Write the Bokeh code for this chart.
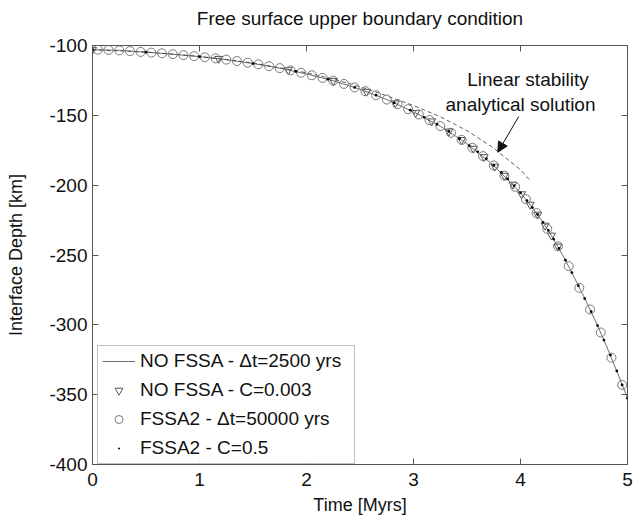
from bokeh.plotting import figure
from bokeh.models import Range1d, LinearAxis, Legend, LegendItem, Label, Arrow, NormalHead, FixedTicker
from bokeh.embed import file_html
from bokeh.resources import INLINE

# ---- data ----
title_text = "Free surface upper boundary condition"
x_ticks = [0, 1, 2, 3, 4, 5]
y_ticks = [-400, -350, -300, -250, -200, -150, -100]
y_tick_labels = ["-400", "-350", "-300", "-250", "-200", "-150", "-100"]

# NO FSSA - dt = 2500 yrs (continuous line)
t_line = [0.0, 0.25, 0.5, 0.75, 1.0, 1.25, 1.5, 1.75, 2.0, 2.25, 2.5, 2.75, 3.0, 3.25,
          3.5, 3.75, 4.0, 4.1, 4.2, 4.3, 4.4, 4.5, 4.6, 4.7, 4.8, 4.9, 5.0]
d_line = [-103.0, -103.5, -104.8, -106.2, -108.0, -110.1, -112.9, -116.2, -120.4, -125.2,
          -131.3, -138.7, -147.5, -157.7, -170.3, -185.9, -205.5, -215.0, -225.6, -237.4,
          -250.9, -265.7, -281.0, -297.2, -314.5, -333.2, -352.5]

# NO FSSA - C = 0.003 (triangles)
t_tri = [0.0, 1.18, 1.83, 2.25, 2.56, 2.83, 3.02, 3.17, 3.33, 3.45, 3.56, 3.66, 3.76,
         3.85, 3.93, 4.01, 4.09, 4.16, 4.23, 4.29, 4.35]
d_tri = [-103.0, -109.5, -117.5, -125.2, -133.0, -141.3, -148.2, -154.2, -161.5, -167.6,
         -173.8, -179.8, -186.6, -193.2, -199.5, -206.4, -213.9, -221.0, -228.9, -236.0, -243.8]

# FSSA2 - dt = 50000 yrs (circles)
t_circ = [0.05, 0.15, 0.25, 0.35, 0.45, 0.55, 0.65, 0.75, 0.85, 0.95,
          1.05, 1.15, 1.25, 1.35, 1.45, 1.55, 1.65, 1.75, 1.85, 1.95,
          2.05, 2.15, 2.25, 2.35, 2.45, 2.55, 2.65, 2.75, 2.85, 2.95,
          3.05, 3.15, 3.25, 3.35, 3.45, 3.55, 3.65, 3.75, 3.85, 3.95,
          4.05, 4.15, 4.25, 4.35, 4.45, 4.55, 4.65, 4.75, 4.85, 4.95]
d_circ = [-103.0, -103.2, -103.5, -104.0, -104.6, -105.1, -105.6, -106.2, -106.9, -107.6,
          -108.4, -109.2, -110.1, -111.1, -112.3, -113.5, -114.8, -116.2, -117.8, -119.5,
          -121.3, -123.2, -125.2, -127.5, -130.0, -132.7, -135.6, -138.7, -142.0, -145.6,
          -149.4, -153.4, -157.7, -162.5, -167.6, -173.2, -179.2, -185.9, -193.2, -201.2,
          -210.0, -220.0, -231.2, -243.8, -258.0, -273.5, -289.0, -305.5, -323.5, -343.0]

# FSSA2 - C = 0.5 (dots)
t_dot = [0.0, 0.5, 1.0, 1.5, 1.9, 2.2, 2.45, 2.65, 2.82, 2.97, 3.1, 3.22, 3.33, 3.43, 3.52,
         3.6, 3.68, 3.75, 3.82, 3.88, 3.94, 4.0, 4.06, 4.11, 4.16, 4.21, 4.26, 4.31, 4.36,
         4.42, 4.48, 4.54, 4.6, 4.66, 4.72, 4.78, 4.84, 4.9, 4.95, 5.0]
d_dot = [-103.0, -104.8, -108.0, -112.9, -118.6, -124.1, -130.0, -135.6, -141.0, -146.3,
         -151.4, -156.4, -161.5, -166.7, -171.6, -176.1, -181.1, -185.9, -190.9, -195.5,
         -200.4, -205.5, -211.0, -216.0, -221.0, -226.6, -232.4, -238.6, -245.2, -253.7,
         -262.6, -272.0, -281.2, -290.6, -300.5, -310.9, -321.6, -333.0, -343.0, -352.5]

# Linear stability analytical solution (dashed)
t_ana = [0.0, 0.5, 1.0, 1.5, 2.0, 2.25, 2.5, 2.75, 3.0, 3.25, 3.5, 3.75, 4.0, 4.1]
d_ana = [-103.0, -104.7, -107.8, -112.5, -119.5, -124.0, -129.5, -136.0, -143.0, -151.0,
         -161.0, -173.5, -189.0, -197.5]

FONT = "Liberation Sans"

p = figure(width=638, height=521, x_range=Range1d(0, 5), y_range=Range1d(-400, -100),
           output_backend="svg", toolbar_location=None,
           min_border_left=92, min_border_right=11, min_border_top=45, min_border_bottom=57)
p.background_fill_color = "white"
p.border_fill_color = "white"
p.outline_line_color = "#555555"
p.outline_line_width = 1
p.xgrid.visible = False
p.ygrid.visible = False

p.title.text = title_text
p.title.align = "center"
p.title.text_font = FONT
p.title.text_font_size = "19px"
p.title.text_font_style = "normal"
p.title.text_color = "#111111"

for ax in p.xaxis:
    ax.ticker = FixedTicker(ticks=x_ticks)
    ax.axis_label = "Time [Myrs]"
    ax.major_label_standoff = 8
    ax.axis_label_standoff = 6
for ax in p.yaxis:
    ax.ticker = FixedTicker(ticks=y_ticks)
    ax.major_label_overrides = {t: s for t, s in zip(y_ticks, y_tick_labels)}
    ax.axis_label = "Interface Depth [km]"
    ax.major_label_standoff = 5
    ax.axis_label_standoff = 20

for ax in list(p.xaxis) + list(p.yaxis):
    ax.major_tick_in = 6
    ax.major_tick_out = 0
    ax.minor_tick_line_color = None
    ax.axis_line_color = "#555555"
    ax.major_tick_line_color = "#555555"
    ax.major_label_text_font = FONT
    ax.major_label_text_font_size = "19px"
    ax.major_label_text_color = "#111111"
    ax.axis_label_text_font = FONT
    ax.axis_label_text_font_size = "18px"
    ax.axis_label_text_font_style = "normal"
    ax.axis_label_text_color = "#111111"

top_ax = LinearAxis(ticker=FixedTicker(ticks=x_ticks),
                    major_label_overrides={t: "" for t in x_ticks},
                    major_tick_in=6, major_tick_out=0, minor_tick_line_color=None,
                    axis_line_color=None, major_tick_line_color="#555555", major_label_standoff=0)
# invisible spacer axis that lifts the title away from the frame
spacer_ax = LinearAxis(ticker=FixedTicker(ticks=x_ticks),
                       major_label_overrides={t: "" for t in x_ticks},
                       major_tick_in=0, major_tick_out=12, minor_tick_line_color=None,
                       axis_line_color=None, major_tick_line_color=None, major_label_standoff=0)
right_ax = LinearAxis(ticker=FixedTicker(ticks=y_ticks),
                      major_label_overrides={t: "" for t in y_ticks},
                      major_tick_in=6, major_tick_out=0, minor_tick_line_color=None,
                      axis_line_color=None, major_tick_line_color="#555555", major_label_standoff=0)
p.add_layout(top_ax, "above")
p.add_layout(spacer_ax, "above")
p.add_layout(right_ax, "right")

r_line = p.line(t_line, d_line, line_color="#6e6e6e", line_width=1)
p.line(t_ana, d_ana, line_color="#333333", line_width=0.8, line_dash="4 3")
r_tri = p.scatter(t_tri, d_tri, marker="inverted_triangle", size=8, fill_color=None,
                  line_color="#555555", line_width=1)
r_circ = p.scatter(t_circ, d_circ, marker="circle", size=9, fill_color=None,
                   line_color="#7a7a7a", line_width=1)
r_dot = p.scatter(t_dot, d_dot, marker="dot", size=11, fill_color="black",
                  line_color="black")

legend = Legend(items=[
    LegendItem(label="NO FSSA - \u0394t=2500 yrs", renderers=[r_line]),
    LegendItem(label="NO FSSA - C=0.003", renderers=[r_tri]),
    LegendItem(label="FSSA2 - \u0394t=50000 yrs", renderers=[r_circ]),
    LegendItem(label="FSSA2 - C=0.5", renderers=[r_dot]),
], location=(5, 0))
legend.label_text_font = FONT
legend.label_text_font_size = "19px"
legend.label_text_color = "#111111"
legend.border_line_color = "#808080"
legend.border_line_width = 1
legend.background_fill_color = "white"
legend.glyph_width = 33
legend.glyph_height = 20
legend.label_height = 20
legend.label_width = 210
legend.label_standoff = 5
legend.spacing = 7
legend.padding = 4
legend.margin = 0
p.add_layout(legend)

p.add_layout(Label(x=4.07, y=-124.0, text="Linear stability", text_align="center",
                   text_baseline="middle", text_font=FONT, text_font_size="19px",
                   text_color="#111111"))
p.add_layout(Label(x=4.0, y=-142.5, text="analytical solution", text_align="center",
                   text_baseline="middle", text_font=FONT, text_font_size="19px",
                   text_color="#111111"))
p.add_layout(Arrow(x_start=3.984, y_start=-150.8, x_end=3.788, y_end=-176.4,
                   line_color="#111111", line_width=1,
                   end=NormalHead(size=10, fill_color="#111111", line_color="#111111")))

open("out.html", "w").write(file_html(p, INLINE))
